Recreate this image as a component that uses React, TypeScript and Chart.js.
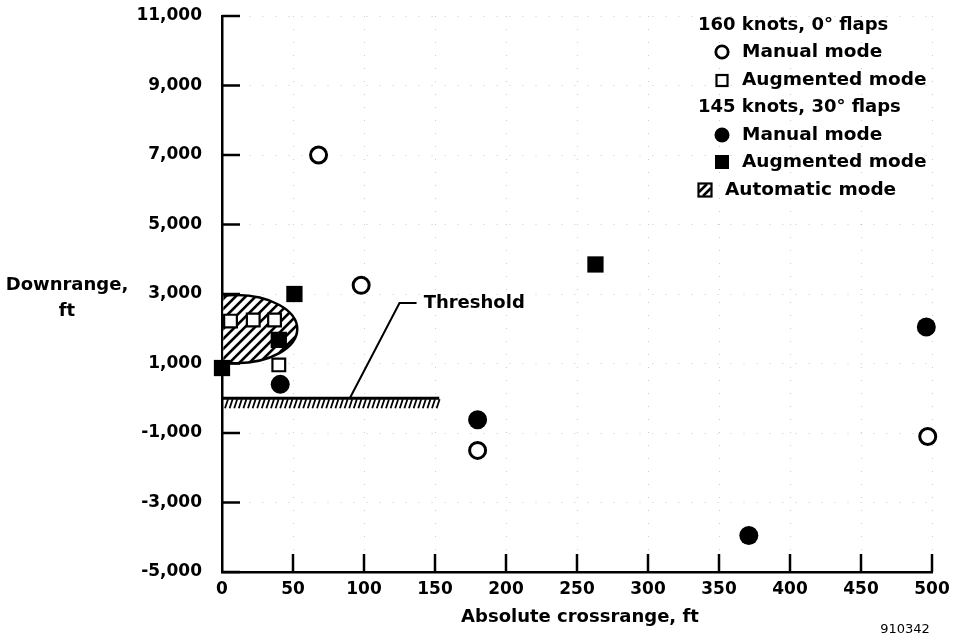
import React, { useEffect, useRef } from 'react';
import { Chart, registerables } from 'chart.js';

Chart.register(...registerables);

// ---- Axis ticks ----
const xTickValues = [0, 50, 100, 150, 200, 250, 300, 350, 400, 450, 500];
const yTickValues = [-5000, -3000, -1000, 1000, 3000, 5000, 7000, 9000, 11000];

// ---- Series (crossrange ft, downrange ft) ----
// 160 knots, 0° flaps
const manual160X = [68, 98, 180, 497];
const manual160Y = [7000, 3250, -1500, -1100];
const augmented160X = [6, 22, 37, 40];
const augmented160Y = [2220, 2250, 2250, 960];
// 145 knots, 30° flaps
const manual145X = [41, 180, 371, 496];
const manual145Y = [400, -620, -3950, 2050];
const augmented145X = [0, 51, 263, 40];
const augmented145Y = [870, 3000, 3850, 1680];

// ---- Automatic mode region (ellipse, data units) ----
const automaticCenter = [10, 1990];
const automaticRadii = [43, 980];

// ---- Threshold ----
const thresholdRange = [0, 153];
const thresholdValue = 0;
const thresholdLeader = [
  [90, 0],
  [125, 2740],
  [137, 2740],
];
const thresholdLabel = 'Threshold';
const thresholdLabelAt = [142, 2740];

// ---- Texts ----
const xTitle = 'Absolute crossrange, ft';
const yTitleLines = ['Downrange,', 'ft'];
const figureNumber = '910342';
const legendTitles = ['160 knots, 0° flaps', '145 knots, 30° flaps'];
const legendEntries = [
  { label: 'Manual mode', kind: 'openCircle' },
  { label: 'Augmented mode', kind: 'openSquare' },
  { label: 'Manual mode', kind: 'filledCircle' },
  { label: 'Augmented mode', kind: 'filledSquare' },
  { label: 'Automatic mode', kind: 'hatchBox' },
];

const FONT = '"DejaVu Sans", "Liberation Sans", Arial, sans-serif';

const toPoints = (xs: number[], ys: number[]) => xs.map((v, i) => ({ x: v, y: ys[i] }));

const overlayPlugin = {
  id: 'overlay',
  beforeDatasetsDraw(chart: any) {
    const { ctx, chartArea, scales } = chart;
    const x = scales.x;
    const y = scales.y;

    // Automatic mode hatched ellipse
    const cx = x.getPixelForValue(automaticCenter[0]);
    const cy = y.getPixelForValue(automaticCenter[1]);
    const rx = x.getPixelForValue(automaticCenter[0] + automaticRadii[0]) - cx;
    const ry = cy - y.getPixelForValue(automaticCenter[1] + automaticRadii[1]);
    ctx.save();
    ctx.beginPath();
    ctx.rect(chartArea.left + 1.3, chartArea.top, chartArea.width, chartArea.height);
    ctx.clip();
    ctx.beginPath();
    ctx.ellipse(cx, cy, rx, ry, 0, 0, Math.PI * 2);
    ctx.fillStyle = '#fff';
    ctx.fill();
    ctx.save();
    ctx.clip();
    ctx.strokeStyle = '#000';
    ctx.lineWidth = 2.6;
    for (let k = -15; k < 25; k++) {
      const bx = cx - rx - 2 * ry + k * 10;
      ctx.beginPath();
      ctx.moveTo(bx, cy + ry + 2);
      ctx.lineTo(bx + 2 * ry + 4, cy - ry - 2);
      ctx.stroke();
    }
    ctx.restore();
    ctx.beginPath();
    ctx.ellipse(cx, cy, rx, ry, 0, 0, Math.PI * 2);
    ctx.lineWidth = 2.5;
    ctx.strokeStyle = '#000';
    ctx.stroke();
    ctx.restore();

    // Threshold hatched line
    const ty = y.getPixelForValue(thresholdValue);
    const tx0 = x.getPixelForValue(thresholdRange[0]);
    const tx1 = x.getPixelForValue(thresholdRange[1]);
    ctx.save();
    ctx.fillStyle = '#000';
    ctx.fillRect(tx0, ty - 1.5, tx1 - tx0, 3);
    ctx.strokeStyle = '#000';
    ctx.lineWidth = 1.8;
    for (let px = tx0 + 3; px < tx1 - 1; px += 4.6) {
      ctx.beginPath();
      ctx.moveTo(px + 3, ty + 1);
      ctx.lineTo(px, ty + 10);
      ctx.stroke();
    }
    // leader line
    ctx.lineWidth = 2;
    ctx.beginPath();
    thresholdLeader.forEach((p, i) => {
      const px = x.getPixelForValue(p[0]);
      const py = y.getPixelForValue(p[1]);
      if (i === 0) ctx.moveTo(px, py);
      else ctx.lineTo(px, py);
    });
    ctx.stroke();
    ctx.fillStyle = '#000';
    ctx.font = `bold 18px ${FONT}`;
    ctx.textAlign = 'left';
    ctx.textBaseline = 'middle';
    ctx.fillText(
      thresholdLabel,
      x.getPixelForValue(thresholdLabelAt[0]),
      y.getPixelForValue(thresholdLabelAt[1])
    );
    ctx.restore();
  },
  afterDraw(chart: any) {
    const { ctx, chartArea, scales } = chart;
    const x = scales.x;
    const y = scales.y;
    ctx.save();
    ctx.strokeStyle = '#000';
    ctx.fillStyle = '#000';
    // inward tick marks
    ctx.lineWidth = 2.5;
    yTickValues.forEach((v) => {
      const py = y.getPixelForValue(v);
      ctx.beginPath();
      ctx.moveTo(chartArea.left, py);
      ctx.lineTo(chartArea.left + 18, py);
      ctx.stroke();
    });
    xTickValues.forEach((v) => {
      if (v === 0) return;
      const px = x.getPixelForValue(v);
      ctx.beginPath();
      ctx.moveTo(px, chartArea.bottom);
      ctx.lineTo(px, chartArea.bottom - 18);
      ctx.stroke();
    });

    // axis titles
    ctx.font = `bold 18px ${FONT}`;
    ctx.textAlign = 'center';
    ctx.textBaseline = 'middle';
    ctx.fillText(xTitle, 580, 617);
    ctx.fillText(yTitleLines[0], 67, 285);
    ctx.fillText(yTitleLines[1], 67, 311);

    // figure number
    ctx.font = `13px ${FONT}`;
    ctx.fillText(figureNumber, 905, 630);

    // legend
    ctx.font = `bold 18px ${FONT}`;
    ctx.textAlign = 'left';
    ctx.fillText(legendTitles[0], 698, 25);
    ctx.fillText(legendTitles[1], 698, 107);
    ctx.font = `bold 18.5px ${FONT}`;
    const rows = [52, 80, 135, 162, 190];
    legendEntries.forEach((e, i) => {
      const ry = rows[i];
      let sx = 722;
      let tx = 742;
      ctx.lineWidth = 2.8;
      if (e.kind === 'openCircle') {
        ctx.beginPath();
        ctx.arc(sx, ry, 6.2, 0, Math.PI * 2);
        ctx.stroke();
      } else if (e.kind === 'openSquare') {
        ctx.lineWidth = 2.2;
        ctx.strokeRect(sx - 5.5, ry - 5, 11, 11);
      } else if (e.kind === 'filledCircle') {
        ctx.beginPath();
        ctx.arc(sx, ry, 7.5, 0, Math.PI * 2);
        ctx.fill();
      } else if (e.kind === 'filledSquare') {
        ctx.fillRect(sx - 7, ry - 7, 14, 14);
      } else if (e.kind === 'hatchBox') {
        sx = 705;
        tx = 725;
        ctx.lineWidth = 2.2;
        ctx.strokeRect(sx - 6.5, ry - 6.5, 13, 13);
        ctx.lineWidth = 2.5;
        ctx.beginPath();
        ctx.moveTo(sx - 6, ry + 2);
        ctx.lineTo(sx + 2, ry - 6);
        ctx.moveTo(sx - 2, ry + 6);
        ctx.lineTo(sx + 6, ry - 2);
        ctx.stroke();
      }
      ctx.fillText(e.label, tx, ry);
    });
    ctx.restore();
  },
};

export default function App() {
  const canvasRef = useRef<HTMLCanvasElement | null>(null);

  useEffect(() => {
    if (!canvasRef.current) return;
    Chart.defaults.font.family = FONT;
    const chart = new Chart(canvasRef.current, {
      type: 'scatter',
      data: {
        datasets: [
          {
            label: '160 augmented',
            data: toPoints(augmented160X, augmented160Y),
            pointStyle: 'rect',
            pointRadius: 9,
            backgroundColor: '#fff',
            borderColor: '#000',
            borderWidth: 2.2,
            clip: false,
          } as any,
          {
            label: '160 manual',
            data: toPoints(manual160X, manual160Y),
            pointStyle: 'circle',
            pointRadius: 8,
            backgroundColor: '#fff',
            borderColor: '#000',
            borderWidth: 3,
            clip: false,
          } as any,
          {
            label: '145 manual',
            data: toPoints(manual145X, manual145Y),
            pointStyle: 'circle',
            pointRadius: 9.5,
            backgroundColor: '#000',
            borderColor: '#000',
            borderWidth: 0,
            clip: false,
          } as any,
          {
            label: '145 augmented',
            data: toPoints(augmented145X, augmented145Y),
            pointStyle: 'rect',
            pointRadius: 11.5,
            backgroundColor: '#000',
            borderColor: '#000',
            borderWidth: 0,
            clip: false,
          } as any,
        ],
      },
      options: {
        responsive: false,
        animation: false,
        events: [],
        layout: { padding: { top: 16, right: 26, left: 0, bottom: 0 } },
        plugins: {
          legend: { display: false },
          tooltip: { enabled: false },
          title: { display: false },
        },
        scales: {
          x: {
            type: 'linear',
            min: 0,
            max: 500,
            afterFit: (s: any) => {
              s.height = 68;
              s.paddingLeft = 0;
              s.paddingRight = 0;
            },
            afterBuildTicks: (s: any) => {
              s.ticks = xTickValues.map((v) => ({ value: v }));
            },
            ticks: {
              color: '#000',
              padding: 7,
              font: { size: 17, weight: 'bold', family: FONT },
              maxRotation: 0,
              autoSkip: false,
              callback: (v: any) => String(v),
            },
            grid: { color: 'rgba(0,0,0,0.2)', lineWidth: 1, drawTicks: false },
            border: { display: true, color: '#000', width: 2.5, dash: [1, 12] },
          },
          y: {
            type: 'linear',
            min: -5000,
            max: 11000,
            afterFit: (s: any) => {
              s.width = 222;
              s.paddingTop = 0;
              s.paddingBottom = 0;
            },
            afterBuildTicks: (s: any) => {
              s.ticks = yTickValues.map((v) => ({ value: v }));
            },
            ticks: {
              color: '#000',
              padding: 20,
              font: { size: 17, weight: 'bold', family: FONT },
              autoSkip: false,
              callback: (v: any) => Number(v).toLocaleString('en-US'),
            },
            grid: { color: 'rgba(0,0,0,0.2)', lineWidth: 1, drawTicks: false },
            border: { display: true, color: '#000', width: 2.5, dash: [1, 12] },
          },
        },
      },
      plugins: [overlayPlugin],
    } as any);
    return () => chart.destroy();
  }, []);

  return (
    <div style={{ position: 'absolute', left: 0, top: 0, width: 958, height: 640, background: '#fff' }}>
      <canvas ref={canvasRef} width={958} height={640} style={{ display: 'block' }} />
    </div>
  );
}
